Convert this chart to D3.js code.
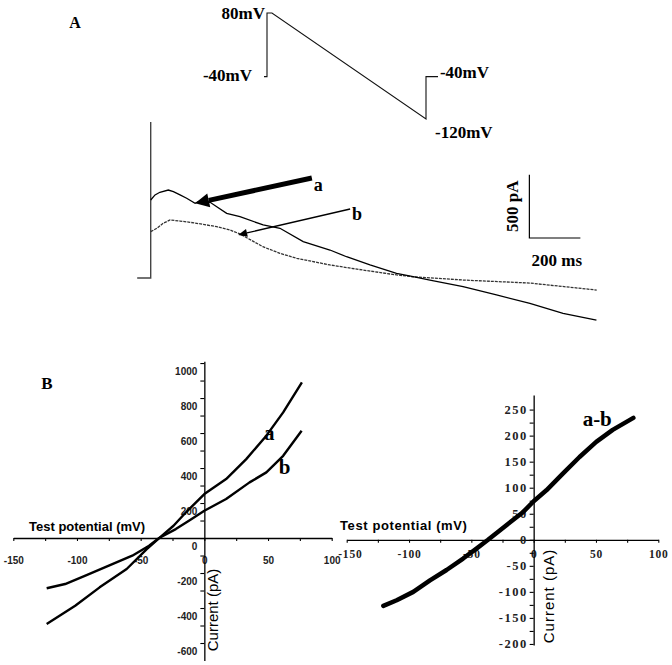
<!DOCTYPE html>
<html>
<head>
<meta charset="utf-8">
<script src="https://cdn.jsdelivr.net/npm/d3@7"></script>
<style>
    body { margin: 0; background: #fff; }
    svg { display: block; }
</style>
</head>
<body>
<div id="fig"></div>
<script>
// ---- Panel A: voltage protocol (ms, mV) ----
const protoTime = [0, 20, 20, 53, 1080, 1080, 1160];
const protoVolt = [-40, -40, 80, 80, -120, -40, -40];
const protoLabels = [
    { text: "80mV", t: 7, v: 80, anchor: "end" },
    { text: "-40mV", t: -80, v: -38, anchor: "end" },
    { text: "-40mV", t: 1173, v: -31, anchor: "start" },
    { text: "-120mV", t: 1140, v: -144, anchor: "start" }
];

// ---- Panel A: current traces (ms, pA) ----
const timeA = [0, 17, 36, 69, 89, 115, 141, 174, 193, 233, 259, 298, 350, 441, 507, 598, 703, 768, 860, 964, 1029, 1095, 1225, 1356, 1487, 1617, 1748];
const currentA = [616, 656, 677, 695, 682, 656, 630, 590, 608, 598, 563, 511, 484, 419, 393, 287, 221, 168, 103, 37, 10, -16, -69, -134, -200, -279, -332];
const timeB = [0, 24, 49, 76, 115, 154, 206, 259, 311, 350, 440, 507, 573, 703, 832, 965, 1028, 1224, 1487, 1749];
const currentB = [366, 393, 432, 458, 450, 440, 424, 405, 379, 348, 247, 195, 155, 103, 63, 24, 10, -16, -40, -95];
const spikeTime = [-53, 0, 0];
const spikeCurrent = [0, 0, 1232];

// arrows: [tail t, tail I, tip t, tip I]
const arrowA = [632, 790, 174, 590];
const arrowB = [782, 545, 343, 340];
const traceLabels = [
    { text: "a", t: 657, i: 735 },
    { text: "b", t: 809, i: 506 }
];
const scaleBarOrigin = [1485, 316];
const scaleBarTime = 200;
const scaleBarCurrent = 500;

// ---- Panel B: I-V curves (mV, pA) ----
const ivVoltA = [-123.8, -101.4, -82.2, -61.0, -45.2, -34.8, -24.2, -14.4, 0, 17.1, 32.9, 48.7, 61.9, 76.6];
const ivCurA = [-491, -387, -282, -177, -63, 4, 70, 147, 251, 337, 451, 585, 718, 889];
const ivVoltB = [-123.8, -109.3, -93.4, -75.0, -56.6, -43.4, -35.5, -22.4, -11.8, 0, 17.1, 35.5, 48.7, 61.9, 76.4];
const ivCurB = [-287, -263, -215, -158, -101, -44, 0, 51, 100, 156, 223, 318, 375, 470, 613];
const diffVolt = [-120.6, -109.9, -96.6, -83.2, -69.9, -56.6, -45.9, -36.6, -27.2, -16.6, -8.6, 0, 10.2, 23.4, 36.8, 50.2, 63.4, 80];
const diffCur = [-127, -116, -100, -78, -58, -36, -17, 0, 18, 38, 53, 74, 95, 127, 159, 188, 211, 234];

const xTicks = d3.range(-150, 101, 25);
const yTicksLeft = d3.range(-600, 1001, 100);
const yTicksRight = d3.range(-200, 251, 25);

const width = 672;
const height = 665;
const serif = "'Liberation Serif', 'Times New Roman', serif";
const sans = "'Liberation Sans', Arial, sans-serif";

const svg = d3.select("#fig")
    .append("svg")
    .attr("width", width)
    .attr("height", height);

function zip(xs, ys) {
    return xs.map(function(x, k) { return [x, ys[k]]; });
}

// ---------------- Panel A ----------------
svg.append("text")
    .attr("x", 75).attr("y", 22).attr("dy", "0.35em")
    .attr("text-anchor", "middle")
    .style("font-family", serif).style("font-weight", "bold").style("font-size", "16px")
    .text("A");

const xP = d3.scaleLinear().domain([0, 1160]).range([264, 438]);
const yP = d3.scaleLinear().domain([-120, 80]).range([119, 13]);

svg.append("path")
    .datum(zip(protoTime, protoVolt))
    .attr("d", d3.line().x(d => xP(d[0])).y(d => yP(d[1])))
    .attr("fill", "none")
    .attr("stroke", "#111")
    .attr("stroke-width", 1.1);

svg.selectAll(".protoLabel")
    .data(protoLabels)
    .enter()
    .append("text")
    .attr("x", d => xP(d.t))
    .attr("y", d => yP(d.v))
    .attr("dy", "0.35em")
    .attr("text-anchor", d => d.anchor)
    .style("font-family", serif).style("font-weight", "bold").style("font-size", "17px")
    .text(d => d.text);

const xT = d3.scaleLinear().domain([0, 1750]).range([150.7, 150.7 + 1750 * 0.255]);
const yI = d3.scaleLinear().domain([0, 500]).range([278, 278 - 63.3]);
const traceLine = d3.line().x(d => xT(d[0])).y(d => yI(d[1]));

svg.append("path")
    .datum(zip(spikeTime, spikeCurrent))
    .attr("d", traceLine)
    .attr("fill", "none")
    .attr("stroke", "#444")
    .attr("stroke-width", 1.4);

svg.append("path")
    .datum(zip(timeB, currentB))
    .attr("d", traceLine)
    .attr("fill", "none")
    .attr("stroke", "#333")
    .attr("stroke-width", 1.3)
    .attr("stroke-dasharray", "3,1");

svg.append("path")
    .datum(zip(timeA, currentA))
    .attr("d", traceLine)
    .attr("fill", "none")
    .attr("stroke", "#000")
    .attr("stroke-width", 1.3);

function drawArrow(a, lineWidth, headLen, headHalf) {
    const x1 = xT(a[0]), y1 = yI(a[1]);
    const x2 = xT(a[2]), y2 = yI(a[3]);
    const len = Math.hypot(x2 - x1, y2 - y1);
    const ux = (x2 - x1) / len, uy = (y2 - y1) / len;
    const bx = x2 - ux * headLen, by = y2 - uy * headLen;

    svg.append("line")
        .attr("x1", x1).attr("y1", y1)
        .attr("x2", bx).attr("y2", by)
        .attr("stroke", "#000")
        .attr("stroke-width", lineWidth);

    svg.append("path")
        .attr("d", "M" + x2 + "," + y2 +
            "L" + (bx - uy * headHalf) + "," + (by + ux * headHalf) +
            "L" + (bx + uy * headHalf) + "," + (by - ux * headHalf) + "Z")
        .attr("fill", "#000");
}

drawArrow(arrowA, 5, 14, 7);
drawArrow(arrowB, 1.3, 9, 4);

svg.selectAll(".traceLabel")
    .data(traceLabels)
    .enter()
    .append("text")
    .attr("x", d => xT(d.t))
    .attr("y", d => yI(d.i))
    .attr("dy", "0.35em")
    .attr("text-anchor", "middle")
    .style("font-family", serif).style("font-weight", "bold").style("font-size", "18px")
    .text(d => d.text);

// scale bar
const sbX = xT(scaleBarOrigin[0]);
const sbY = yI(scaleBarOrigin[1]);
svg.append("path")
    .attr("d", "M" + sbX + "," + yI(scaleBarOrigin[1] + scaleBarCurrent) +
        "L" + sbX + "," + sbY +
        "L" + xT(scaleBarOrigin[0] + scaleBarTime) + "," + sbY)
    .attr("fill", "none")
    .attr("stroke", "#000")
    .attr("stroke-width", 1.2);

svg.append("text")
    .attr("transform", "translate(" + (sbX - 11) + "," + yI(scaleBarOrigin[1] + scaleBarCurrent / 2) + ") rotate(-90)")
    .attr("text-anchor", "middle")
    .style("font-family", serif).style("font-weight", "bold").style("font-size", "17px")
    .text(scaleBarCurrent + " pA");

svg.append("text")
    .attr("x", xT(scaleBarOrigin[0] + scaleBarTime / 2) + 2)
    .attr("y", sbY + 22)
    .attr("dy", "0.35em")
    .attr("text-anchor", "middle")
    .style("font-family", serif).style("font-weight", "bold").style("font-size", "17px")
    .text(scaleBarTime + " ms");

// ---------------- Panel B ----------------
svg.append("text")
    .attr("x", 47).attr("y", 383).attr("dy", "0.35em")
    .attr("text-anchor", "middle")
    .style("font-family", serif).style("font-weight", "bold").style("font-size", "17px")
    .text("B");

function styleAxis(g) {
    g.select(".domain").attr("stroke", "#000").attr("stroke-width", 1.3);
    g.selectAll(".tick line").attr("stroke", "#000").attr("stroke-width", 1.1);
}

// left I-V
const xL = d3.scaleLinear().domain([-150, 100]).range([13.3, 331.7]);
const yL = d3.scaleLinear().domain([-700, 1010]).range([660.5, 361.3]);

const gxL = svg.append("g")
    .attr("transform", "translate(0," + yL(0) + ")")
    .call(d3.axisBottom(xL).tickValues(xTicks).tickSize(3).tickSizeOuter(0)
        .tickFormat(d => d % 50 === 0 ? d : ""));
styleAxis(gxL);
gxL.selectAll("text")
    .attr("y", 22).attr("dy", "0.35em")
    .attr("fill", "#222")
    .style("font-family", sans).style("font-weight", "bold").style("font-size", "10px");

const gyL = svg.append("g")
    .attr("transform", "translate(" + xL(0) + ",0)")
    .call(d3.axisLeft(yL).tickValues(yTicksLeft).tickSize(4).tickPadding(3).tickSizeOuter(0)
        .tickFormat(d => d % 200 === 0 ? d : ""));
styleAxis(gyL);
gyL.selectAll("text")
    .attr("dy", "1.1em")
    .attr("fill", "#222")
    .style("font-family", sans).style("font-weight", "bold").style("font-size", "10px");

svg.append("text")
    .attr("x", 29).attr("y", 531)
    .style("font-family", sans).style("font-weight", "bold").style("font-size", "13px")
    .text("Test potential (mV)");

svg.append("text")
    .attr("transform", "translate(" + (xL(0) + 14) + ",610) rotate(-90)")
    .attr("text-anchor", "middle")
    .style("font-family", sans).style("font-size", "15px")
    .text("Current (pA)");

const ivLineL = d3.line().x(d => xL(d[0])).y(d => yL(d[1]));

svg.append("path")
    .datum(zip(ivVoltA, ivCurA))
    .attr("d", ivLineL)
    .attr("fill", "none")
    .attr("stroke", "#000")
    .attr("stroke-width", 2.4)
    .attr("stroke-linejoin", "round");

svg.append("path")
    .datum(zip(ivVoltB, ivCurB))
    .attr("d", ivLineL)
    .attr("fill", "none")
    .attr("stroke", "#000")
    .attr("stroke-width", 2.4)
    .attr("stroke-linejoin", "round");

svg.append("text")
    .attr("x", xL(51)).attr("y", yL(605)).attr("dy", "0.35em")
    .attr("text-anchor", "middle")
    .style("font-family", serif).style("font-weight", "bold").style("font-size", "21px")
    .text("a");

svg.append("text")
    .attr("x", xL(63)).attr("y", yL(410)).attr("dy", "0.35em")
    .attr("text-anchor", "middle")
    .style("font-family", serif).style("font-weight", "bold").style("font-size", "21px")
    .text("b");

// right I-V (a-b)
const xR = d3.scaleLinear().domain([-150, 100]).range([346.7, 658.3]);
const yR = d3.scaleLinear().domain([-202, 278]).range([645, 395]);

const gxR = svg.append("g")
    .attr("transform", "translate(0," + yR(0) + ")")
    .call(d3.axisBottom(xR).tickValues(xTicks).tickSize(3).tickSizeOuter(0)
        .tickFormat(d => d % 50 === 0 ? d : ""));
styleAxis(gxR);
gxR.selectAll("text")
    .attr("y", 14).attr("dy", "0.35em")
    .attr("fill", "#222")
    .style("font-family", serif).style("font-weight", "bold").style("font-size", "11.5px")
    .style("letter-spacing", "0.8px");
// nudge the first label clear of the left panel's "100"
gxR.selectAll(".tick")
    .filter(d => d === -150)
    .select("text")
    .attr("text-anchor", "start")
    .attr("x", -9);

const gyR = svg.append("g")
    .attr("transform", "translate(" + xR(0) + ",0)")
    .call(d3.axisLeft(yR).tickValues(yTicksRight).tickSize(4).tickPadding(2).tickSizeOuter(0)
        .tickFormat(d => d % 50 === 0 ? d : ""));
styleAxis(gyR);
gyR.selectAll("text")
    .attr("fill", "#222")
    .style("font-family", serif).style("font-weight", "bold").style("font-size", "12.5px")
    .style("letter-spacing", "1.5px");

svg.append("text")
    .attr("x", 340).attr("y", 530)
    .style("font-family", sans).style("font-weight", "bold").style("font-size", "13px")
    .style("letter-spacing", "0.6px")
    .text("Test potential (mV)");

svg.append("text")
    .attr("transform", "translate(" + (xR(0) + 20) + ",596) rotate(-90)")
    .attr("text-anchor", "middle")
    .style("font-family", sans).style("font-size", "15px")
    .style("letter-spacing", "1px")
    .text("Current (pA)");

svg.append("path")
    .datum(zip(diffVolt, diffCur))
    .attr("d", d3.line().x(d => xR(d[0])).y(d => yR(d[1])))
    .attr("fill", "none")
    .attr("stroke", "#000")
    .attr("stroke-width", 4.5)
    .attr("stroke-linecap", "round")
    .attr("stroke-linejoin", "round");

svg.append("text")
    .attr("x", xR(51)).attr("y", yR(232)).attr("dy", "0.35em")
    .attr("text-anchor", "middle")
    .style("font-family", serif).style("font-weight", "bold").style("font-size", "21px")
    .text("a-b");
</script>
</body>
</html>
